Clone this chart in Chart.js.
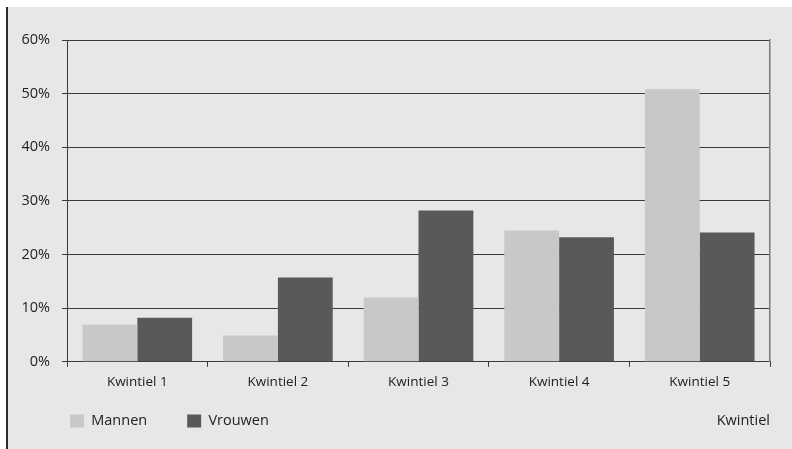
<!DOCTYPE html>
<html>
<head>
<meta charset="utf-8">
<script src="https://cdn.jsdelivr.net/npm/chart.js@4.4.1/dist/chart.umd.min.js"></script>
<style>
  html, body { margin: 0; padding: 0; background: #ffffff; }
  #frame {
    position: absolute; left: 6px; top: 7px;
    width: 784px; height: 442px;
    border-left: 2px solid #2e2e2e;
    background: #e6e7e8;
  }
  canvas { display: block; }
</style>
</head>
<body>
<div id="frame"><canvas id="chart" width="784" height="442"></canvas></div>
<script>
// values (percentages)
var categories = ["Kwintiel 1", "Kwintiel 2", "Kwintiel 3", "Kwintiel 4", "Kwintiel 5"];
var mannen = [6.9, 4.9, 12.0, 24.5, 50.8];
var vrouwen = [8.2, 15.7, 28.2, 23.2, 24.1];
var yMax = 60;
var yStep = 10;
var axisTitle = "Kwintiel";

var font = "'Open Sans', 'DejaVu Sans', sans-serif";
var textColor = "#222222";
var gridColor = "#3a3a3a";
var legendGap = 40;

// legend sits just under the axis labels, lined up with the plot's left edge,
// and the "Kwintiel" label goes on the same line at the right
var legendLine = {
    id: 'legendLine',
    afterLayout: function(chart) {
        var legend = chart.legend;
        legend.left = chart.chartArea.left - 37;
        legend.top = chart.chartArea.bottom + 12;
        legend.bottom = legend.top + legendGap + 24;
    },
    afterDraw: function(chart) {
        var ctx = chart.ctx;
        var y = chart.legend.top + legendGap + 7;
        ctx.save();
        ctx.font = "14.5px " + font;
        ctx.fillStyle = textColor;
        ctx.textAlign = 'right';
        ctx.textBaseline = 'middle';
        ctx.fillText(axisTitle, chart.chartArea.right, y);
        ctx.restore();
    }
};

var ctx = document.getElementById("chart").getContext("2d");

var myChart = new Chart(ctx, {
    type: 'bar',
    data: {
        labels: categories,
        datasets: [
            {
                label: "Mannen",
                data: mannen,
                backgroundColor: "#c7c8ca",
                borderWidth: 0,
                categoryPercentage: 0.78,
                barPercentage: 1.0
            },
            {
                label: "Vrouwen",
                data: vrouwen,
                backgroundColor: "#58595b",
                borderWidth: 0,
                categoryPercentage: 0.78,
                barPercentage: 1.0
            }
        ]
    },
    options: {
        responsive: false,
        animation: false,
        layout: {
            padding: { left: 0, right: 22, top: 33, bottom: 4 }
        },
        plugins: {
            tooltip: { enabled: false },
            legend: {
                position: 'bottom',
                align: 'start',
                maxHeight: 48,
                labels: {
                    boxWidth: 14,
                    boxHeight: 13,
                    padding: legendGap,
                    color: textColor,
                    font: { family: font, size: 14.5 }
                }
            }
        },
        scales: {
            x: {
                grid: {
                    drawOnChartArea: false,
                    drawTicks: true,
                    tickLength: 5,
                    color: gridColor
                },
                border: { color: gridColor, width: 1 },
                ticks: {
                    color: textColor,
                    padding: 7,
                    font: { family: font, size: 13.5 }
                }
            },
            y: {
                min: 0,
                max: yMax,
                grid: {
                    color: gridColor,
                    tickLength: 5
                },
                border: { color: gridColor, width: 1 },
                ticks: {
                    stepSize: yStep,
                    color: textColor,
                    padding: 12,
                    font: { family: font, size: 14.5 },
                    callback: function(v) { return v + '%'; }
                },
                afterFit: function(scale) { scale.width = 59; }
            },
            yRight: {
                position: 'right',
                min: 0,
                max: yMax,
                grid: { display: false, drawTicks: false },
                border: { color: "#7a7a7a", width: 1.5 },
                ticks: { display: false },
                afterFit: function(scale) { scale.width = 0; }
            }
        }
    },
    plugins: [legendLine]
});
</script>
</body>
</html>
